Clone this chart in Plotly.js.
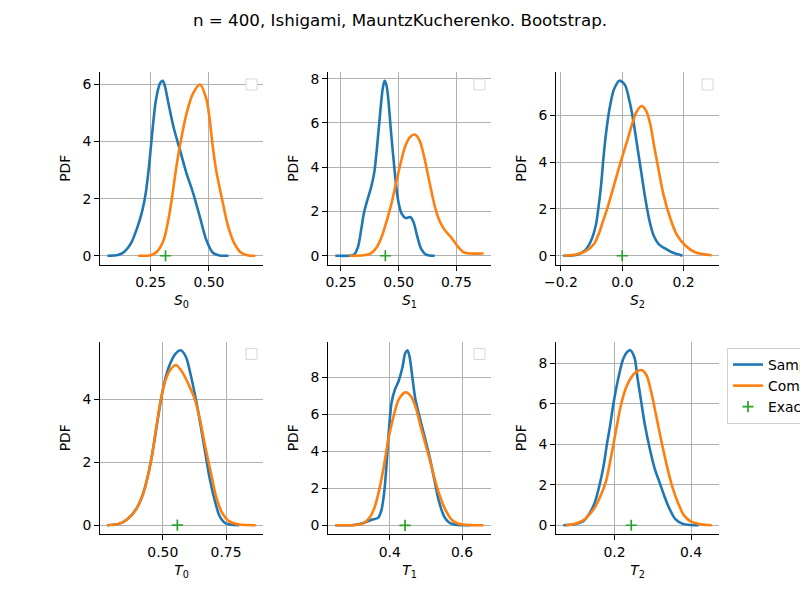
<!DOCTYPE html>
<html><head><meta charset="utf-8">
<script src="https://cdn.plot.ly/plotly-3.0.1.min.js"></script>
<style>body{margin:0;background:#fff}#chart{width:800px;height:600px}</style>
</head><body><div id="chart"></div>
<script>
const chartTitle = "n = 400, Ishigami, MauntzKucherenko. Bootstrap.";
const seriesNames = ["Sample", "Computed", "Exact"];
const indexLabels = ["<i>S</i><sub>0</sub>", "<i>S</i><sub>1</sub>", "<i>S</i><sub>2</sub>",
                     "<i>T</i><sub>0</sub>", "<i>T</i><sub>1</sub>", "<i>T</i><sub>2</sub>"];
const exactValues = [0.3139, 0.4424, 0.0, 0.5576, 0.4424, 0.2437];

// S0
const s0SampleX = [0.0646,0.1096,0.1376,0.1657,0.1938,0.2149,0.2289,0.243,0.257,0.271,0.285,0.293,0.302,0.311,0.327,0.348,0.376,0.404,0.433,0.461,0.489,0.517,0.545,0.584];
const s0SampleY = [0,0.023,0.14,0.43,1.01,1.60,2.18,3.12,4.31,5.36,5.92,6.08,6.13,5.95,5.32,4.52,3.70,2.89,2.18,1.37,0.55,0.105,0.01,0];
const s0CompX = [0.197,0.25,0.278,0.306,0.327,0.341,0.362,0.379,0.4045,0.4326,0.462,0.489,0.503,0.514,0.531,0.556,0.580,0.608,0.636,0.664,0.699];
const s0CompY = [0,0.02,0.15,0.55,1.3,2.0,3.2,4.0,5.0,5.7,6.0,5.5,4.8,4.0,3.0,2.0,1.1,0.45,0.12,0.02,0];
// S1
const s1SampleX = [0.226,0.2855,0.307,0.324,0.338,0.349,0.364,0.381,0.395,0.409,0.423,0.431,0.439,0.446,0.453,0.467,0.482,0.496,0.513,0.531,0.551,0.565,0.580,0.598,0.619,0.656];
const s1SampleY = [0,0,0.05,0.4,1.2,1.9,2.5,3.1,3.8,5.2,6.8,7.55,7.9,7.75,7.3,5.6,3.9,2.6,1.9,1.7,1.75,1.5,0.9,0.3,0.05,0];
const s1CompX = [0.286,0.349,0.378,0.406,0.428,0.449,0.470,0.491,0.509,0.527,0.548,0.572,0.591,0.612,0.634,0.655,0.676,0.697,0.726,0.754,0.783,0.811,0.868];
const s1CompY = [0,0.02,0.1,0.4,0.9,1.6,2.4,3.4,4.2,4.9,5.35,5.47,5.2,4.4,3.3,2.3,1.6,1.2,0.85,0.45,0.15,0.1,0.1];
// S2
const s2SampleX = [-0.192,-0.151,-0.124,-0.103,-0.086,-0.078,-0.069,-0.061,-0.052,-0.041,-0.027,-0.009,0.009,0.024,0.036,0.049,0.063,0.076,0.089,0.103,0.119,0.141,0.162,0.197];
const s2SampleY = [0,0.03,0.2,0.6,1.3,2.0,3.0,4.2,5.3,6.3,7.1,7.48,7.3,6.6,5.8,4.7,3.5,2.4,1.5,0.85,0.5,0.3,0.15,0];
const s2CompX = [-0.189,-0.151,-0.119,-0.092,-0.076,-0.062,-0.049,-0.027,-0.005,0.016,0.032,0.045,0.063,0.078,0.092,0.104,0.117,0.135,0.157,0.178,0.205,0.238,0.292];
const s2CompY = [0,0.05,0.2,0.5,0.95,1.5,2.0,3.0,4.0,4.9,5.6,6.1,6.4,6.2,5.6,4.7,3.8,2.6,1.6,0.9,0.45,0.15,0.02];
// T0
const t0SampleX = [0.281,0.329,0.361,0.394,0.420,0.442,0.459,0.475,0.491,0.508,0.527,0.549,0.571,0.592,0.610,0.631,0.649,0.668,0.685,0.705,0.724,0.747,0.802];
const t0SampleY = [0,0.05,0.2,0.5,0.95,1.6,2.3,3.1,3.9,4.6,5.1,5.45,5.57,5.35,4.8,4.0,3.2,2.3,1.5,0.8,0.3,0.07,0];
const t0CompX = [0.281,0.329,0.361,0.394,0.420,0.442,0.459,0.475,0.491,0.510,0.530,0.552,0.575,0.601,0.627,0.646,0.668,0.692,0.711,0.734,0.763,0.802,0.867];
const t0CompY = [0,0.05,0.2,0.5,0.95,1.6,2.3,3.15,3.95,4.6,4.95,5.1,4.9,4.5,4.0,3.4,2.5,1.6,0.9,0.4,0.12,0.02,0];
// T1
const t1SampleX = [0.25,0.30,0.332,0.35,0.368,0.377,0.385,0.391,0.397,0.405,0.414,0.425,0.435,0.443,0.449,0.455,0.462,0.471,0.482,0.495,0.509,0.523,0.536,0.550,0.564,0.582,0.623];
const t1SampleY = [0,0.02,0.15,0.3,0.4,0.8,1.8,3.2,4.9,6.6,7.3,7.8,8.5,9.3,9.45,9.1,8.1,6.8,5.9,4.9,3.8,2.5,1.3,0.5,0.15,0.03,0];
const t1CompX = [0.25,0.305,0.327,0.344,0.357,0.371,0.384,0.396,0.411,0.425,0.444,0.459,0.473,0.486,0.500,0.514,0.527,0.541,0.555,0.571,0.591,0.623,0.659];
const t1CompY = [0,0.02,0.1,0.4,0.9,1.9,3.2,4.6,5.9,6.8,7.18,6.95,6.3,5.3,4.3,3.3,2.3,1.45,0.8,0.3,0.08,0.01,0];
// T2
const t2SampleX = [0.0664,0.0966,0.118,0.135,0.148,0.161,0.172,0.180,0.189,0.197,0.209,0.222,0.232,0.241,0.252,0.260,0.269,0.279,0.292,0.305,0.318,0.331,0.344,0.359,0.377,0.398,0.420];
const t2SampleY = [0,0.05,0.2,0.6,1.1,2.0,3.0,4.0,5.0,6.0,7.2,8.2,8.55,8.66,8.3,7.3,6.2,5.0,3.8,2.8,2.1,1.4,0.8,0.3,0.08,0.01,0];
const t2CompX = [0.0724,0.101,0.122,0.144,0.161,0.178,0.191,0.203,0.215,0.228,0.243,0.258,0.272,0.284,0.297,0.309,0.322,0.336,0.351,0.366,0.381,0.398,0.420,0.454];
const t2CompY = [0,0.1,0.3,0.75,1.35,2.2,3.4,4.6,5.8,6.7,7.3,7.6,7.67,7.4,6.5,5.4,4.2,3.0,1.9,1.1,0.5,0.2,0.06,0];

const sampleXs = [s0SampleX, s1SampleX, s2SampleX, t0SampleX, t1SampleX, t2SampleX];
const sampleYs = [s0SampleY, s1SampleY, s2SampleY, t0SampleY, t1SampleY, t2SampleY];
const compXs = [s0CompX, s1CompX, s2CompX, t0CompX, t1CompX, t2CompX];
const compYs = [s0CompY, s1CompY, s2CompY, t0CompY, t1CompY, t2CompY];

const xRanges = [[0.033,0.732],[0.194,0.900],[-0.216,0.316],[0.252,0.896],[0.2295,0.68],[0.047,0.473]];
const yRanges = [[-0.307,6.44],[-0.395,8.3],[-0.374,7.85],[-0.28,5.85],[-0.47,9.92],[-0.433,9.09]];
const xDticks = [0.25,0.25,0.2,0.25,0.2,0.2];
const xFormats = [".2f",".2f",".1f",".2f",".1f",".1f"];

const W = 800, H = 600;
const colPx = [[100,263],[328,491],[556,719]];
const rowPx = [[72,264.5],[341.5,534]];

const C_BLUE = "#1f77b4", C_ORANGE = "#ff7f0e", C_GREEN = "#2ca02c";
const FONT = "DejaVu Sans, sans-serif";
const traces = [];
const layout = {
  width: W, height: H,
  margin: {l:0, r:0, t:0, b:0, autoexpand: false},
  paper_bgcolor: "#fff", plot_bgcolor: "#fff",
  font: {family: FONT, size: 13.9, color: "#000"},
  title: {text: chartTitle, x: 0.5, xanchor: "center", y: 1 - 20/H, yanchor: "middle", yref: "container",
          font: {family: FONT, size: 16.7, color: "#000"}},
  showlegend: true,
  legend: {x: 727/W, y: 1 - 348/H, xanchor: "left", yanchor: "top", bgcolor: "#fff",
           bordercolor: "#d0d0d0", borderwidth: 1, font: {family: FONT, size: 13.9},
           tracegroupgap: 0},
  shapes: []
};

for (let i = 0; i < 6; i++) {
  const r = Math.floor(i / 3), c = i % 3;
  const xa = "x" + (i === 0 ? "" : i + 1), ya = "y" + (i === 0 ? "" : i + 1);
  const last = i === 5;
  traces.push({x: sampleXs[i], y: sampleYs[i], xaxis: xa, yaxis: ya, type: "scatter", mode: "lines",
    name: seriesNames[0], showlegend: last, line: {color: C_BLUE, width: 2.6, shape: "spline", smoothing: 0.8}});
  traces.push({x: compXs[i], y: compYs[i], xaxis: xa, yaxis: ya, type: "scatter", mode: "lines",
    name: seriesNames[1], showlegend: last, line: {color: C_ORANGE, width: 2.6, shape: "spline", smoothing: 0.8}});
  traces.push({x: [exactValues[i]], y: [0], xaxis: xa, yaxis: ya, type: "scatter", mode: "markers",
    name: seriesNames[2], showlegend: last,
    marker: {symbol: "cross-thin", size: 8, color: C_GREEN, line: {color: C_GREEN, width: 1.7}}});
  const xk = "xaxis" + (i === 0 ? "" : i + 1), yk = "yaxis" + (i === 0 ? "" : i + 1);
  const axCommon = {showline: true, linecolor: "#000", linewidth: 1, mirror: false, ticks: "outside",
    ticklen: 5, tickwidth: 1, tickcolor: "#000", showgrid: true, gridcolor: "#b0b0b0", gridwidth: 1,
    zeroline: false, automargin: false, tickfont: {family: FONT, size: 13.9, color: "#000"}};
  layout[xk] = Object.assign({}, axCommon, {
    domain: [colPx[c][0]/W, colPx[c][1]/W], anchor: ya, range: xRanges[i],
    dtick: xDticks[i], tick0: 0, tickformat: xFormats[i],
    title: {text: indexLabels[i], font: {family: FONT, size: 13.9}, standoff: 6}
  });
  layout[yk] = Object.assign({}, axCommon, {
    domain: [1 - rowPx[r][1]/H, 1 - rowPx[r][0]/H], anchor: xa, range: yRanges[i],
    dtick: 2, tick0: 0,
    title: {text: "PDF", font: {family: FONT, size: 13.9}, standoff: 8}
  });
  if (!last) {
    const R = colPx[c][1], T = rowPx[r][0];
    layout.shapes.push({type: "rect", xref: "paper", yref: "paper",
      x0: (R-17)/W, x1: (R-6)/W, y0: 1-(T+18)/H, y1: 1-(T+7)/H,
      line: {color: "#d8d8d8", width: 1}, fillcolor: "#fff", layer: "above"});
  }
}

Plotly.newPlot("chart", traces, layout, {displayModeBar: false, staticPlot: true});
</script>
</body></html>
